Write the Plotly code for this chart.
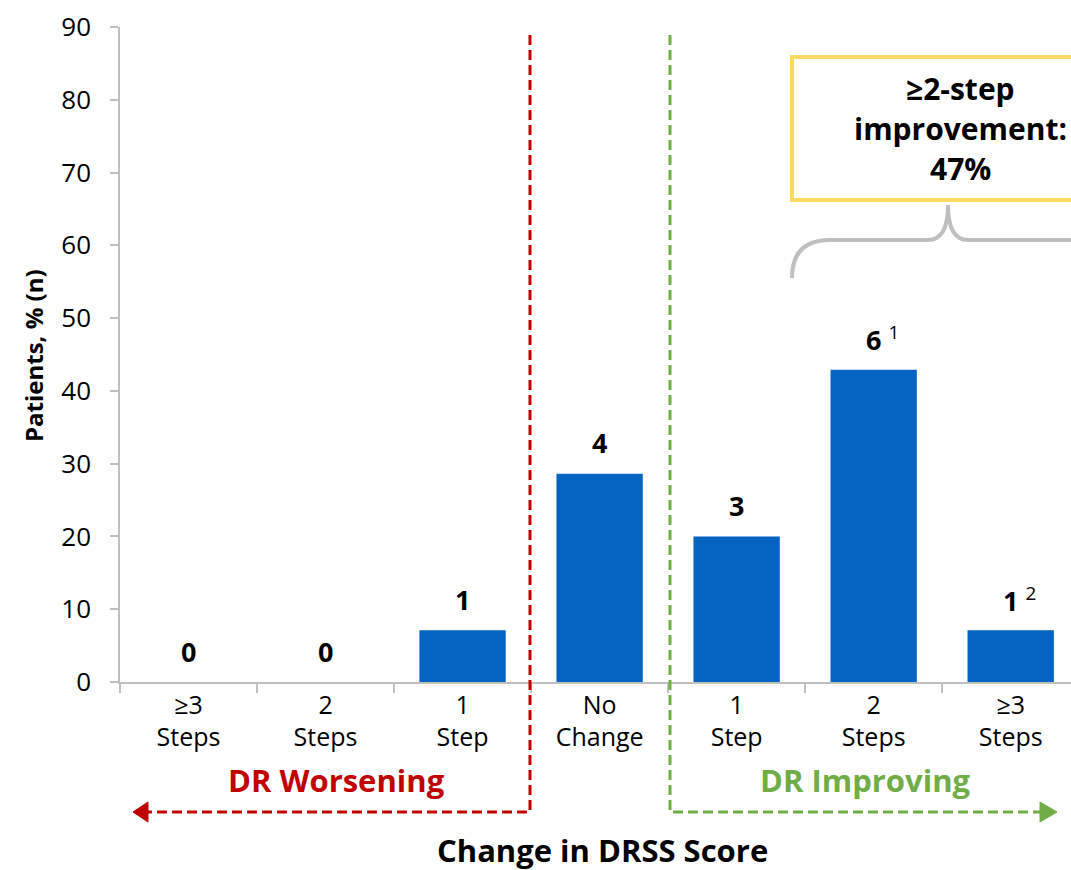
import plotly.graph_objects as go

# Change in DRSS score: share of patients per category
cat_ids = ["w3", "w2", "w1", "nc", "i1", "i2", "i3"]
cat_labels = ["≥3<br>Steps", "2<br>Steps", "1<br>Step", "No<br>Change",
              "1<br>Step", "2<br>Steps", "≥3<br>Steps"]
pct = [0, 0, 7.1, 28.6, 20.0, 42.9, 7.1]
n_patients = ["0", "0", "1", "4", "3", "6", "1"]
footnotes = ["", "", "", "", "", "1", "2"]
y_ticks = [0, 10, 20, 30, 40, 50, 60, 70, 80, 90]
box_lines = ["≥2-step", "improvement:", "47%"]

W, H = 1071, 870
L, R, T, B = 120, 0, 27, 188
FONT = "Open Sans"
BAR = "#0563C1"
AXIS = "#BFBFBF"
RED = "#C00000"
GREEN = "#70AD47"
YELLOW = "#FFD966"


def px(x):
    return (x - L) / (W - L - R)


def py(y):
    return (H - B - y) / (H - B - T)


def label(x, y, text, size, color="black", angle=0):
    fig.add_annotation(xref="paper", yref="paper", x=px(x), y=py(y), text=text,
                       showarrow=False, xanchor="center", yanchor="middle",
                       textangle=angle,
                       font=dict(family=FONT, size=size, color=color))


fig = go.Figure(go.Bar(
    x=cat_ids, y=pct, marker=dict(color=BAR, line=dict(width=0)),
    width=0.63, hoverinfo="skip",
))

# value labels above each bar
for cid, v, n, fn in zip(cat_ids, pct, n_patients, footnotes):
    txt = f"<b>{n}</b>" + (f" <sup>{fn}</sup>" if fn else "")
    fig.add_annotation(x=cid, y=v, xref="x", yref="y", text=txt,
                       showarrow=False, yanchor="middle", yshift=31,
                       xshift=9 if fn else 0,
                       font=dict(family=FONT, size=27, color="black"))

shapes = []
# worsening / improving dashed brackets with arrows
for xv, xend, color, tip in [(530, 148, RED, 133), (670, 1040, GREEN, 1057)]:
    shapes.append(dict(type="path", xref="paper", yref="paper",
                       path=f"M {px(xv)},{py(35)} L {px(xv)},{py(812)} L {px(xend)},{py(812)}",
                       line=dict(color=color, width=3, dash="10px,5px")))
    shapes.append(dict(type="path", xref="paper", yref="paper",
                       path=f"M {px(tip)},{py(812)} L {px(xend)},{py(802)} L {px(xend)},{py(822)} Z",
                       fillcolor=color, line=dict(color=color, width=1)))

# highlight box
shapes.append(dict(type="rect", xref="paper", yref="paper",
                   x0=px(792), x1=px(1085), y0=py(57), y1=py(200),
                   line=dict(color=YELLOW, width=4), fillcolor="white"))

# curly brace under the box
brace = (f"M {px(792)},{py(278)} Q {px(792)},{py(240)} {px(830)},{py(240)} "
         f"L {px(928)},{py(240)} Q {px(948)},{py(240)} {px(948)},{py(205)} "
         f"Q {px(948)},{py(240)} {px(968)},{py(240)} L {px(1075)},{py(240)}")
shapes.append(dict(type="path", xref="paper", yref="paper", path=brace,
                   line=dict(color=AXIS, width=4)))

fig.update_layout(
    width=W, height=H,
    margin=dict(l=L, r=R, t=T, b=B),
    paper_bgcolor="white", plot_bgcolor="white",
    showlegend=False, shapes=shapes, bargap=0.37,
    font=dict(family=FONT, size=24, color="black"),
)

for i, line in enumerate(box_lines):
    label(960, 88 + 40 * i, f"<b>{line}</b>", 30)

label(336, 780, "<b>DR Worsening</b>", 31, RED)
label(865, 780, "<b>DR Improving</b>", 31, GREEN)
label(602, 850, "<b>Change in DRSS Score</b>", 31)
label(33, 356, "<b>Patients, % (n)</b>", 24, angle=-90)

fig.update_xaxes(
    type="category", categoryorder="array", categoryarray=cat_ids,
    tickvals=cat_ids, ticktext=cat_labels, tickson="boundaries",
    range=[-0.5, 6.44], showline=True, linecolor=AXIS, linewidth=1.5,
    ticks="outside", ticklen=9, tickcolor=AXIS, tickwidth=1.5,
    showgrid=False, zeroline=False, tickfont=dict(size=25),
)
fig.update_yaxes(
    range=[0, 90], tickvals=y_ticks, showline=True, linecolor=AXIS,
    linewidth=1.5, ticks="outside", ticklen=8, tickcolor=AXIS, tickwidth=1.5,
    showgrid=False, zeroline=False, tickfont=dict(size=26), ticklabelstandoff=14,
)

fig.write_html("out.html")
